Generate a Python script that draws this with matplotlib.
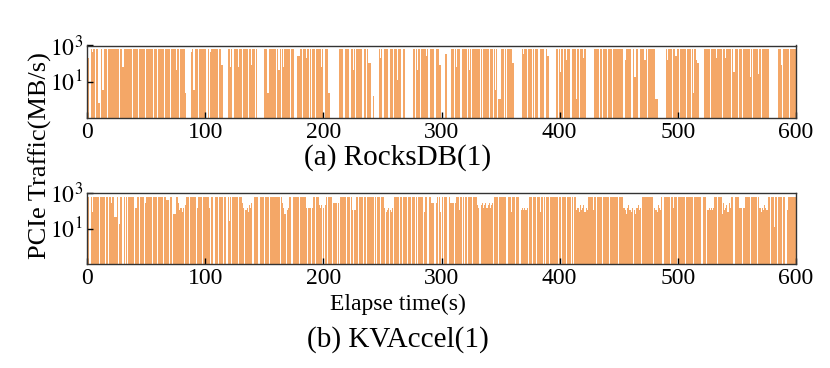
import matplotlib
matplotlib.use("Agg")
import matplotlib.pyplot as plt
import numpy as np

# ---- data (one character per second, decoded through LEVELS, MB/s) ----
LEVELS = {'0': 0, 'a': 0.6, 'b': 1.0, 'c': 1.5, 'd': 2.2, 'e': 3.3, 'f': 12,
          'g': 18, 'h': 25, 'i': 35, 'j': 42, 'k': 65, 'l': 80, 'm': 110,
          'n': 150, 'o': 200, 'p': 260, 'q': 350, 'r': 430, 's': 520, 't': 620}

rocksdb_rows = [
    "oo0trtt0ta a0tettt0tt ttttttt0tt kttttttt0t ttt0ttttt0 tttttt0tt0",
    "ttttt0tttt 0ttttjtt0t tttd0000rt ettt0ttttt t0t0rttttt t0tll0000t",
    "tkt0ttttkt t0tttt0ttl tt0t000000 ttddtttttt 0tjt0tkttt tt0tt000pp",
    "tt0ttott0t ttt0ttttkt 0tttdd0000 000tttt0tt tt0ttjt0tt ttt0tt0tmm",
    "00c0000tot 0tttt0ttt0 ttfttt0tt0 000000tttj tt0ttttpt0 tttt0tttll",
    "000qq000tt ttkttt0ttt tttjt0tttt tttt0ttttt 0ttttet0bb ttt0tttttt",
    "m0000000tq tt0ttttt0t tt0tttt0tp p000000ttt itt0tnttt0 ttttbt0ttt",
    "ot0000000t ttt0tt0ttt 0ttt0ttttt tttt0ntttt 00tggt00tt tnnt0ttttt",
    "tbb0000000 tnttt0ttpt t0ttttt0tt t0tdtnmm00 00ttttt0tt ttotttt0tt",
    "otttt0titt t0tt0ttttt tgt0ttttht 0tttttt000 00000ttl0t tttt0ttttt",
]

kvaccel_rows = [
    "tt0tlttttt 0tttt0tt0t pttjjt0gtt 0t0t0ttttt 0ntt0ttt0p ttttt0ttt0",
    "tttt0ttrr0 tt0kkttpmn ln0ott0ttt tt0nttt0tt tttn0tt0tt t0ttt0tt0t",
    "ht0ttttt0t tpn0mnlonp 0tttt0tttt 0ttt0ttttt ttt0tpnk0m ntt0ttttt0",
    "tttttn0nnn ntt0ttono0 not0ttt0pp ppp0ttttt0 ttttm0mmt0 tttttt0ttt",
    "ttt0tttt0t tn0lmnmln0 tttt0ttttt t0tt0tttt0 tttt0ltt0t tppp0pt0tl",
    "t0ttt0tppp pptttmt0t0 tttttt0ttt on0opnopno pnoptttt0t ttttt0tttl",
    "tt0ttt0mnm nmn0tttttt 0ttltt0ttt t0tttttttt t0ttt0tttt t0ttmnlomn",
    "olnmttttmt t0tttt0ttt tt0tttttt0 ttttnmknom ln0mknomn0 ttttttttt0",
    "nmlonmt0tt ttt0ttntt0 tttttt0ttt ttt0tttttt 0ttt0mnmnm ntt0tttkpm",
    "nolpntt0tt ttnn0nnttt t0ttttt0tn lnmonmtt0t tftt0ttt0t t0mttttttt",
]

x_ticks = [0, 100, 200, 300, 400, 500, 600]
y_ticks = [10, 1000]
y_ticklabels = [r"$10^1$", r"$10^3$"]
captions = ["(a) RocksDB(1)", "(b) KVAccel(1)"]
xlabel = "Elapse time(s)"
ylabel = "PCIe Traffic(MB/s)"


def decode(rows):
    s = "".join(r.replace(" ", "") for r in rows)
    return np.array([LEVELS[c] for c in s], dtype=float)


series = [decode(rocksdb_rows), decode(kvaccel_rows)]

plt.rcParams["font.family"] = ["Liberation Serif", "DejaVu Serif"]
plt.rcParams["mathtext.fontset"] = "stix"

W, H = 830, 368
fig = plt.figure(figsize=(W / 100, H / 100), dpi=100)

bar_color = "#f4a767"
axes_px = [(87, 45.5, 796, 117.5), (87, 193, 796, 264)]
for (x0, y0, x1, y1), vals in zip(axes_px, series):
    ax = fig.add_axes([x0 / W, 1 - y1 / H, (x1 - x0) / W, (y1 - y0) / H])
    t = np.arange(len(vals)) + 0.5
    v = np.where(vals > 0, vals, np.nan)
    ax.bar(t, v, width=0.97, bottom=0.001, color=bar_color, linewidth=0)
    ax.set_yscale("log")
    ax.set_ylim(0.1, 1000)
    ax.set_xlim(0, 600)
    ax.set_xticks(x_ticks)
    ax.set_yticks(y_ticks)
    ax.set_yticklabels(y_ticklabels)
    ax.yaxis.set_minor_locator(matplotlib.ticker.NullLocator())
    ax.tick_params(direction="in", length=4, width=1, labelsize=17, pad=3,
                   colors="black")
    for sp in ax.spines.values():
        sp.set_color("#333333")
        sp.set_linewidth(1.0)

fig.text(398 / W, 1 - 158 / H, captions[0], ha="center", va="center", fontsize=21)
fig.text(398 / W, 1 - 304 / H, xlabel, ha="center", va="center", fontsize=17)
fig.text(398 / W, 1 - 340 / H, captions[1], ha="center", va="center", fontsize=21)
fig.text(40 / W, 1 - 156 / H, ylabel, ha="center", va="center", rotation=90,
         fontsize=19)

fig.savefig("out.png", dpi=100)
